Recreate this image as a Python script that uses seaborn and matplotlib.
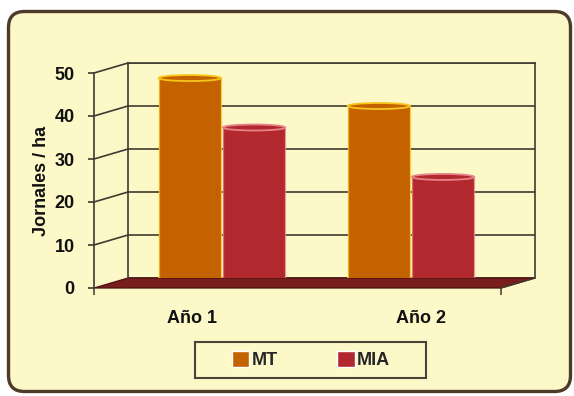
import matplotlib
matplotlib.use("Agg")
import matplotlib.pyplot as plt
import numpy as np
import pandas as pd
import seaborn as sns
from matplotlib.patches import Ellipse, Polygon, Rectangle, FancyBboxPatch
from matplotlib.transforms import ScaledTranslation

# ---- data -------------------------------------------------------------
years = ["Año 1", "Año 2"]
series = ["MT", "MIA"]
mt_values = [46.5, 40.0]
mia_values = [35.0, 23.5]
y_ticks = [0, 10, 20, 30, 40, 50]
y_label = "Jornales / ha"

# ---- style ------------------------------------------------------------
cream = "#fdf8c8"
grid_col = "#3f3b30"
floor_col = "#7a1d1d"
bar_colors = {"MT": "#c46200", "MIA": "#b3272f"}
rim_colors = {"MT": "#f7c51c", "MIA": "#e58388"}

df = pd.DataFrame({
    "Año": years * 2,
    "Serie": [series[0]] * len(years) + [series[1]] * len(years),
    "Jornales": mt_values + mia_values,
})

sns.set_theme(style="white")
plt.rcParams["font.family"] = ["Liberation Sans", "DejaVu Sans"]
plt.rcParams["font.weight"] = "bold"
plt.rcParams["axes.labelweight"] = "bold"

W, H, DPI = 574, 396, 100
fig = plt.figure(figsize=(W / DPI, H / DPI), dpi=DPI)
fig.patch.set_facecolor("white")


def px_rect(x0, y_top, x1, y_bot):
    """Figure-fraction rectangle from pixel edges (origin at top-left)."""
    return [x0 / W, 1 - y_bot / H, (x1 - x0) / W, (y_bot - y_top) / H]


# rounded panel behind everything
panel = FancyBboxPatch((0.085, 0.045), 5.62, 3.80,
                       boxstyle="round,pad=0,rounding_size=0.16",
                       transform=fig.dpi_scale_trans, facecolor=cream,
                       edgecolor="#4d3b2a", linewidth=2.4, zorder=-10)
fig.add_artist(panel)

# depth offset (pixels) between the back wall and the front plane
DX, DY = -34, -10

# back wall axes
ax = fig.add_axes(px_rect(128, 63, 535, 278))
ax.set_facecolor("none")
xlim = (-0.497, -0.497 + 407 / 189)
ylim = (y_ticks[0], y_ticks[-1])

sns.barplot(data=df, x="Año", y="Jornales", hue="Serie", order=years,
            hue_order=series, palette=bar_colors, saturation=1,
            width=0.68, gap=0.03, linewidth=0, legend=False, ax=ax, zorder=2)
ax.set_xlim(*xlim)
ax.set_ylim(*ylim)
ax.set_yticks(y_ticks)
ax.yaxis.grid(True, color=grid_col, linewidth=1.2)
ax.set_axisbelow(True)
ax.tick_params(left=False, bottom=False, labelleft=False, labelbottom=False)
ax.set_xlabel("")
ax.set_ylabel("")
for side in ("left", "right", "top"):
    ax.spines[side].set_visible(True)
    ax.spines[side].set_color(grid_col)
    ax.spines[side].set_linewidth(1.2)
ax.spines["bottom"].set_visible(False)


def to_front(x, y):
    """Project a back-wall data point onto the front plane (data coords)."""
    disp = ax.transData.transform((x, y)) + np.array([DX, DY])
    return ax.transData.inverted().transform(disp)


# floor
fl = to_front(xlim[0], 0)
fr = to_front(xlim[1], 0)
floor = Polygon([(xlim[0], 0), (xlim[1], 0), tuple(fr), tuple(fl)],
                closed=True, facecolor=floor_col, edgecolor="#4a1212",
                linewidth=0.9, clip_on=False, zorder=0.8)
ax.add_patch(floor)
ax.plot([fr[0], xlim[1]], [fr[1], 0], color=grid_col, linewidth=1.1,
        clip_on=False, zorder=0.85)

# side wall grid lines
for t in y_ticks[1:]:
    p = to_front(xlim[0], t)
    ax.plot([p[0], xlim[0]], [p[1], t], color=grid_col, linewidth=1.2,
            clip_on=False, zorder=0.7)

# cylinder caps and rims derived from the bars seaborn drew
data_per_px = (ylim[1] - ylim[0]) / 215
cap_h = 6 * data_per_px
rgba_lookup = {s: matplotlib.colors.to_rgba(c) for s, c in bar_colors.items()}
for bar in list(ax.patches):
    if not isinstance(bar, Rectangle) or bar.get_height() <= 0:
        continue
    fc = bar.get_facecolor()
    name = min(rgba_lookup, key=lambda s: sum((a - b) ** 2 for a, b in zip(rgba_lookup[s], fc)))
    body, rim = bar_colors[name], rim_colors[name]
    x0, w, h = bar.get_x(), bar.get_width(), bar.get_height()
    cx = x0 + w / 2
    ax.add_patch(Ellipse((cx, 0), w, cap_h, facecolor=body, edgecolor=rim,
                         linewidth=1.0, zorder=1.9))
    ax.add_patch(Ellipse((cx, h), w, cap_h, facecolor=body, edgecolor=rim,
                         linewidth=1.3, zorder=2.2))
    ax.plot([x0, x0], [0, h], color=rim, linewidth=0.9, alpha=0.8, zorder=2.1)
    ax.plot([x0 + w, x0 + w], [0, h], color=rim, linewidth=0.9, alpha=0.8, zorder=2.1)

# front plane axes carrying the value axis and category labels
axf = fig.add_axes(px_rect(128 + DX, 63 - DY, 535 + DX, 278 - DY))
axf.set_facecolor("none")
axf.set_xlim(*xlim)
axf.set_ylim(*ylim)
axf.set_yticks(y_ticks)
axf.set_yticklabels([str(t) for t in y_ticks], fontsize=13, fontweight="bold")
axf.set_xticks(range(len(years)))
axf.set_xticklabels(years, fontsize=13, fontweight="bold")
axf.set_xticks([xlim[0], xlim[1]], minor=True)
axf.tick_params(axis="y", which="major", left=True, length=4, width=1.2,
                color=grid_col, pad=10, labelcolor="#111111")
axf.tick_params(axis="x", which="major", bottom=False, length=0, pad=16,
                labelcolor="#111111")
axf.tick_params(axis="x", which="minor", bottom=True, length=5, width=1.1,
                color=grid_col)
for side in ("right", "top", "bottom"):
    axf.spines[side].set_visible(False)
axf.spines["left"].set_color(grid_col)
axf.spines["left"].set_linewidth(1.2)
axf.set_ylabel(y_label, fontsize=13, fontweight="bold", labelpad=3,
               color="#111111")

label_shift = [4, 44]
for lab, dx in zip(axf.get_xticklabels(), label_shift):
    lab.set_transform(lab.get_transform() + ScaledTranslation(dx / DPI, 0, fig.dpi_scale_trans))

# legend
handles = [Rectangle((0, 0), 1, 1, facecolor=bar_colors[s]) for s in series]
fig.legend(handles, series, loc="center", bbox_to_anchor=(311 / W, 1 - 360 / H),
           ncol=2, frameon=False, prop={"size": 13, "weight": "bold"},
           handlelength=0.95, handleheight=0.95, handletextpad=0.15,
           columnspacing=3.3)
fig.add_artist(Rectangle((195 / W, 1 - 378 / H), 231 / W, 36 / H,
                         transform=fig.transFigure, fill=False,
                         edgecolor="#4a4236", linewidth=1.5))

fig.savefig("out.png", dpi=DPI, facecolor="white")
